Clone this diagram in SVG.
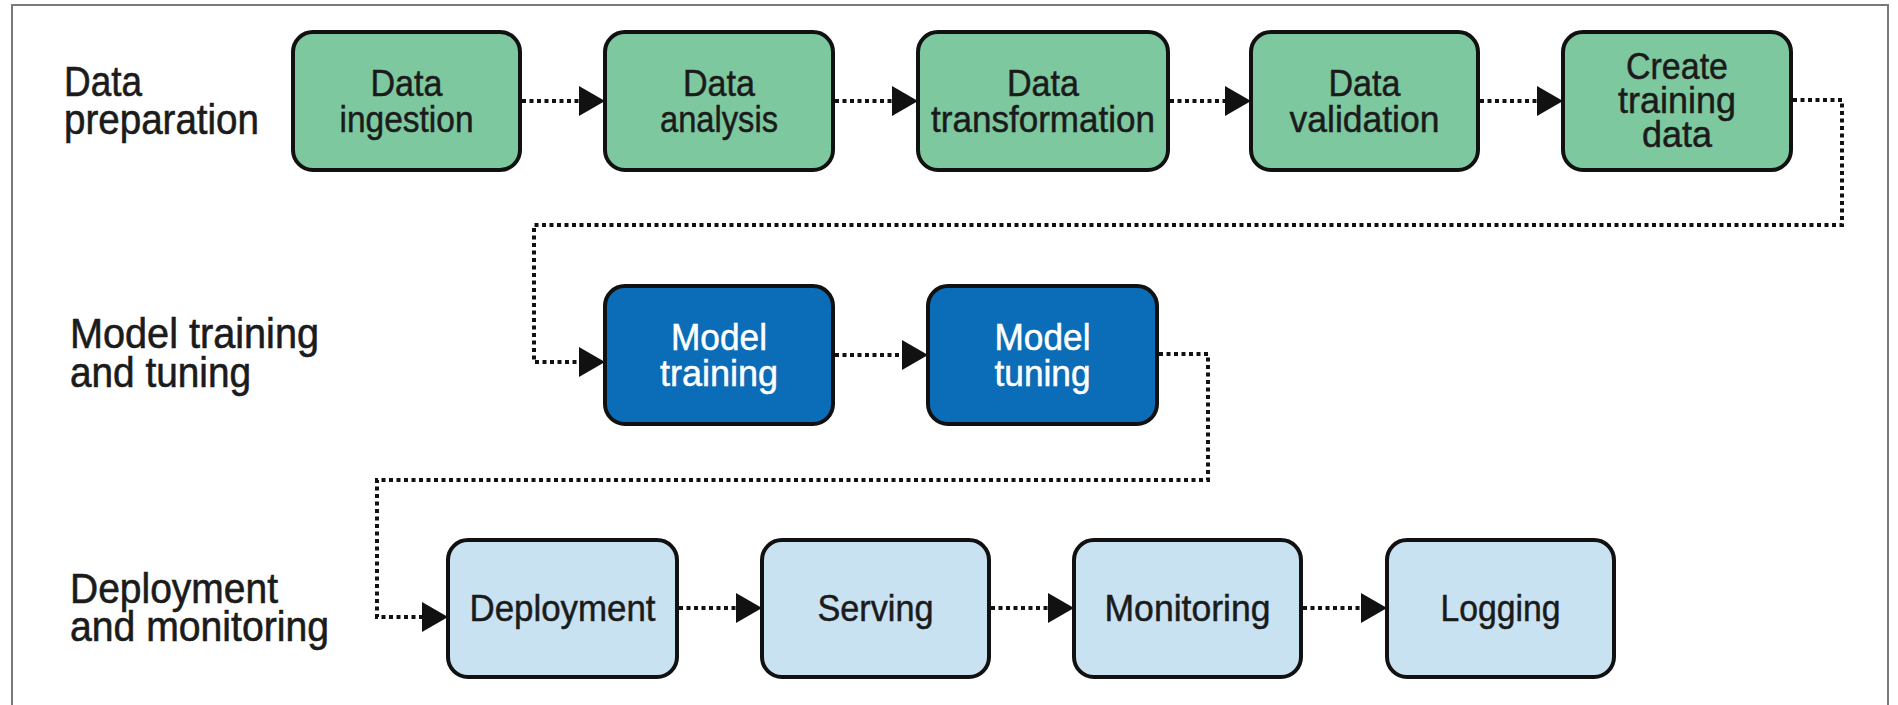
<svg xmlns="http://www.w3.org/2000/svg" width="1898" height="705" viewBox="0 0 1898 705">
  <style>
    .frame { fill: none; stroke: #7a7a7a; stroke-width: 2; }
    .box { stroke: #111; stroke-width: 4; }
    .green { fill: #7ec8a0; }
    .blue { fill: #0b6db7; }
    .light { fill: #c9e2f1; }
    .lbl { font-family: "Liberation Sans", Arial, sans-serif; font-size: 42px; fill: #1b1b1b; stroke: #1b1b1b; stroke-width: 0.6; }
    .t { font-family: "Liberation Sans", Arial, sans-serif; font-size: 37px; fill: #1b1b1b; stroke: #1b1b1b; stroke-width: 0.5; text-anchor: middle; }
    .w { fill: #ffffff; stroke: #ffffff; }
    .conn { fill: none; stroke: #111; stroke-width: 4; stroke-dasharray: 4 3.5; }
  </style>
  <defs>
    <marker id="arr" markerUnits="userSpaceOnUse" markerWidth="26" markerHeight="30" refX="0" refY="15" orient="auto">
      <path d="M0,0 L26,15 L0,30 Z" fill="#111"/>
    </marker>
  </defs>
  <rect x="0" y="0" width="1898" height="705" fill="#ffffff"/>
  <path class="frame" d="M12,705 V5 H1888 V705"/>

  <g id="labels">
    <text class="lbl" x="64" y="96" textLength="78" lengthAdjust="spacingAndGlyphs">Data</text>
    <text class="lbl" x="64" y="134" textLength="195" lengthAdjust="spacingAndGlyphs">preparation</text>
    <text class="lbl" x="70" y="348" textLength="249" lengthAdjust="spacingAndGlyphs">Model training</text>
    <text class="lbl" x="70" y="387" textLength="181" lengthAdjust="spacingAndGlyphs">and tuning</text>
    <text class="lbl" x="70" y="603" textLength="208" lengthAdjust="spacingAndGlyphs">Deployment</text>
    <text class="lbl" x="70" y="641" textLength="259" lengthAdjust="spacingAndGlyphs">and monitoring</text>
  </g>

  <g id="connectors">
    <path class="conn" d="M522,101 H579" marker-end="url(#arr)"/>
    <path class="conn" d="M835,101 H892" marker-end="url(#arr)"/>
    <path class="conn" d="M1170,101 H1225" marker-end="url(#arr)"/>
    <path class="conn" d="M1480,101 H1537" marker-end="url(#arr)"/>
    <path class="conn" d="M1793,100 H1842 V225 H534 V362 H579" marker-end="url(#arr)"/>
    <path class="conn" d="M835,355 H902" marker-end="url(#arr)"/>
    <path class="conn" d="M1159,354 H1208 V480 H377 V617 H422" marker-end="url(#arr)"/>
    <path class="conn" d="M679,608 H736" marker-end="url(#arr)"/>
    <path class="conn" d="M991,608 H1048" marker-end="url(#arr)"/>
    <path class="conn" d="M1303,608 H1361" marker-end="url(#arr)"/>
  </g>

  <g id="data-ingestion">
    <rect class="box green" x="293" y="32" width="227" height="138" rx="20"/>
    <text class="t" x="406.5" y="96" textLength="72" lengthAdjust="spacingAndGlyphs">Data</text>
    <text class="t" x="406.5" y="132" textLength="134" lengthAdjust="spacingAndGlyphs">ingestion</text>
  </g>
  <g id="data-analysis">
    <rect class="box green" x="605" y="32" width="228" height="138" rx="20"/>
    <text class="t" x="719" y="96" textLength="72" lengthAdjust="spacingAndGlyphs">Data</text>
    <text class="t" x="719" y="132" textLength="118" lengthAdjust="spacingAndGlyphs">analysis</text>
  </g>
  <g id="data-transformation">
    <rect class="box green" x="918" y="32" width="250" height="138" rx="20"/>
    <text class="t" x="1043" y="96" textLength="72" lengthAdjust="spacingAndGlyphs">Data</text>
    <text class="t" x="1043" y="132" textLength="224" lengthAdjust="spacingAndGlyphs">transformation</text>
  </g>
  <g id="data-validation">
    <rect class="box green" x="1251" y="32" width="227" height="138" rx="20"/>
    <text class="t" x="1364.5" y="96" textLength="72" lengthAdjust="spacingAndGlyphs">Data</text>
    <text class="t" x="1364.5" y="132" textLength="150" lengthAdjust="spacingAndGlyphs">validation</text>
  </g>
  <g id="create-training-data">
    <rect class="box green" x="1563" y="32" width="228" height="138" rx="20"/>
    <text class="t" x="1677" y="79" textLength="102" lengthAdjust="spacingAndGlyphs">Create</text>
    <text class="t" x="1677" y="113" textLength="118" lengthAdjust="spacingAndGlyphs">training</text>
    <text class="t" x="1677" y="147" textLength="70" lengthAdjust="spacingAndGlyphs">data</text>
  </g>

  <g id="model-training">
    <rect class="box blue" x="605" y="286" width="228" height="138" rx="20"/>
    <text class="t w" x="719" y="350" textLength="96" lengthAdjust="spacingAndGlyphs">Model</text>
    <text class="t w" x="719" y="386" textLength="118" lengthAdjust="spacingAndGlyphs">training</text>
  </g>
  <g id="model-tuning">
    <rect class="box blue" x="928" y="286" width="229" height="138" rx="20"/>
    <text class="t w" x="1042.5" y="350" textLength="96" lengthAdjust="spacingAndGlyphs">Model</text>
    <text class="t w" x="1042.5" y="386" textLength="96" lengthAdjust="spacingAndGlyphs">tuning</text>
  </g>

  <g id="deployment">
    <rect class="box light" x="448" y="540" width="229" height="137" rx="20"/>
    <text class="t" x="562.5" y="621" textLength="186" lengthAdjust="spacingAndGlyphs">Deployment</text>
  </g>
  <g id="serving">
    <rect class="box light" x="762" y="540" width="227" height="137" rx="20"/>
    <text class="t" x="875.5" y="621" textLength="116" lengthAdjust="spacingAndGlyphs">Serving</text>
  </g>
  <g id="monitoring">
    <rect class="box light" x="1074" y="540" width="227" height="137" rx="20"/>
    <text class="t" x="1187.5" y="621" textLength="166" lengthAdjust="spacingAndGlyphs">Monitoring</text>
  </g>
  <g id="logging">
    <rect class="box light" x="1387" y="540" width="227" height="137" rx="20"/>
    <text class="t" x="1500.5" y="621" textLength="120" lengthAdjust="spacingAndGlyphs">Logging</text>
  </g>
</svg>
